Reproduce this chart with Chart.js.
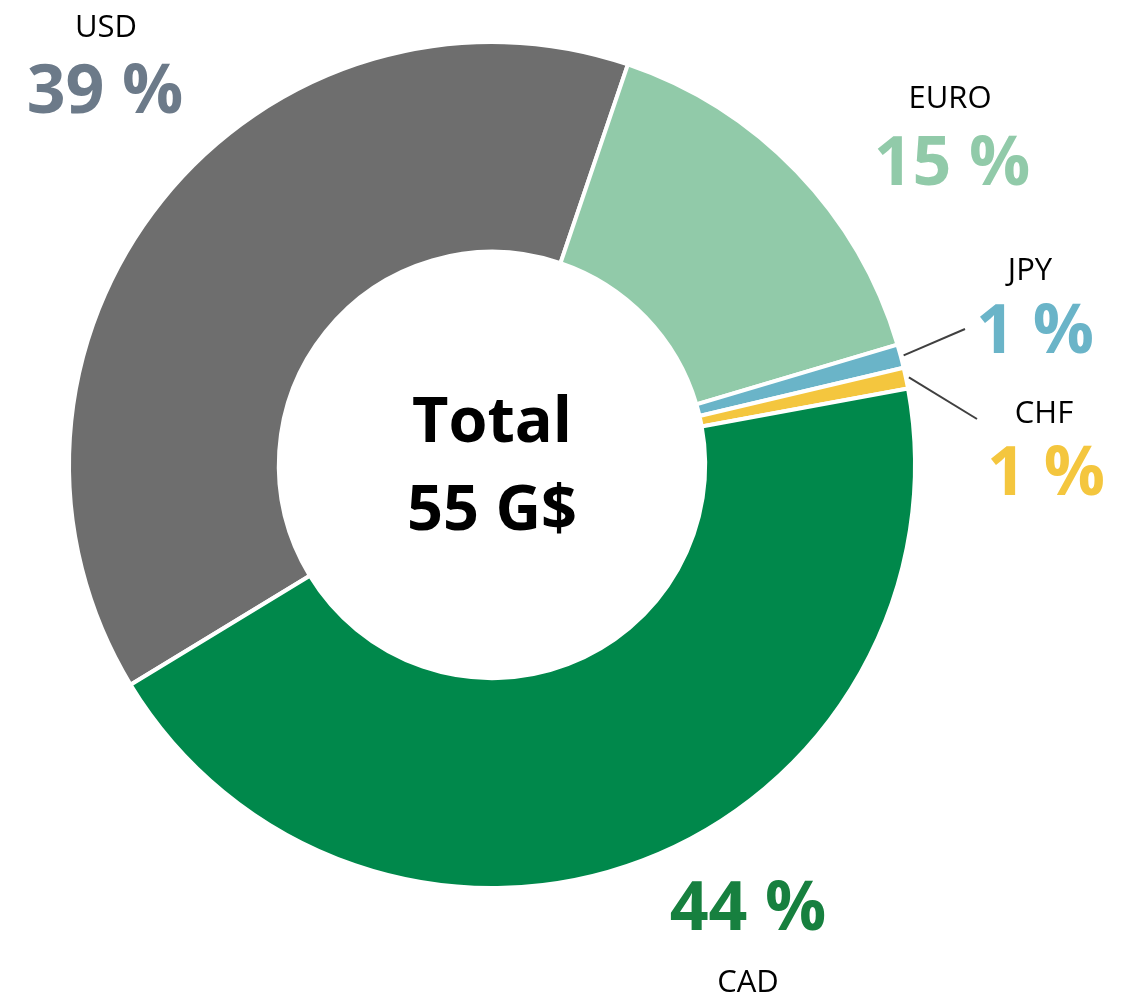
<!DOCTYPE html>
<html>
<head>
<meta charset="utf-8">
<title>Currency split</title>
<script src="https://cdn.jsdelivr.net/npm/chart.js@4.4.1/dist/chart.umd.min.js"></script>
<style>
    html, body { margin: 0; padding: 0; background: #fff; }
    #wrap { width: 1124px; height: 997px; }
</style>
</head>
<body>
<div id="wrap"><canvas id="currencyChart" width="1124" height="997"></canvas></div>
<script>
// données
const currencies = ["USD", "EURO", "JPY", "CHF", "CAD"];
const shares = [38.9, 15.2, 0.9, 0.8, 44.2];
const shareLabels = ["39 %", "15 %", "1 %", "1 %", "44 %"];
const centerLines = ["Total", "55 G$"];

// couleurs
const sliceColors = ["#6e6e6e", "#91caa9", "#6ab4c8", "#f4c63e", "#00884b"];
const pctColors = ["#6c7a89", "#91caa9", "#6ab4c8", "#f4c63e", "#17803f"];

// position des étiquettes par rapport au centre : [dx nom, y nom, dx %, y %]
const labelPlacement = [
    [-386, -428, -387, -352],
    [458, -357, 460, -280],
    [538, -185, 543, -112],
    [552, -42, 554, 30],
    [256, 527, 256, 465]
];
// fin des traits de rappel (tranches minces)
const leaderEnds = [null, null, [473, -136], [485, -46], null];

const FONT = "'Open Sans', 'Noto Sans', sans-serif";

const labelsPlugin = {
    id: "ringLabels",
    afterDraw(chart) {
        const ctx = chart.ctx;
        const meta = chart.getDatasetMeta(0);
        const cx = meta.data[0].x;
        const cy = meta.data[0].y;
        ctx.save();
        ctx.textAlign = "center";
        ctx.textBaseline = "alphabetic";

        // texte central
        ctx.fillStyle = "#000";
        ctx.font = "bold 63px " + FONT;
        ctx.fillText(centerLines[0], cx, cy - 23);
        ctx.fillText(centerLines[1], cx, cy + 65);

        meta.data.forEach((arc, i) => {
            const p = labelPlacement[i];
            ctx.fillStyle = "#000";
            ctx.font = "31px " + FONT;
            ctx.fillText(currencies[i], cx + p[0], cy + p[1]);
            ctx.fillStyle = pctColors[i];
            ctx.font = "bold 68px " + FONT;
            ctx.fillText(shareLabels[i], cx + p[2], cy + p[3]);

            if (leaderEnds[i]) {
                const mid = (arc.startAngle + arc.endAngle) / 2;
                const r = arc.outerRadius + 3;
                ctx.strokeStyle = "#404040";
                ctx.lineWidth = 2;
                ctx.beginPath();
                ctx.moveTo(cx + Math.cos(mid) * r, cy + Math.sin(mid) * r);
                ctx.lineTo(cx + leaderEnds[i][0], cy + leaderEnds[i][1]);
                ctx.stroke();
            }
        });
        ctx.restore();
    }
};

new Chart(document.getElementById("currencyChart").getContext("2d"), {
    type: "doughnut",
    data: {
        labels: currencies,
        datasets: [{
            data: shares,
            backgroundColor: sliceColors,
            borderColor: "#ffffff",
            borderWidth: 4,
            hoverOffset: 0
        }]
    },
    options: {
        responsive: false,
        animation: false,
        radius: 423,
        cutout: "50.4%",
        rotation: -121.3,
        layout: { padding: { left: 0, right: 140, top: 0, bottom: 67 } },
        plugins: {
            legend: { display: false },
            tooltip: { enabled: false }
        }
    },
    plugins: [labelsPlugin]
});
</script>
</body>
</html>
